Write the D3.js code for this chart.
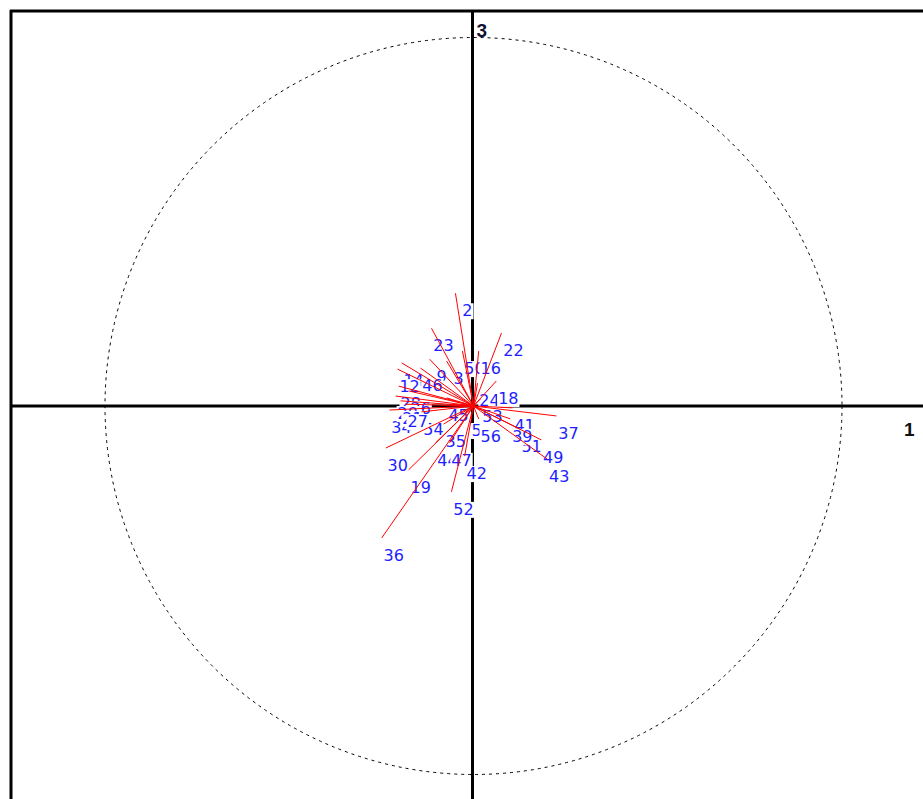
<!DOCTYPE html>
<html><head><meta charset="utf-8">
<script src="https://cdn.jsdelivr.net/npm/d3@7"></script>
<style>html,body{margin:0;padding:0;background:#fff;overflow:hidden}</style>
</head><body>
<svg id="chart" width="923" height="799"></svg>
<script>
// Variable labels and their correlations with axis 1 (horizontal) and axis 3 (vertical)
const varLabels = ["2","23","22","50","16","9","3","14","46","24","18","28","34","54","45","53","41","37","5","56","51","49","43","30","44","47","42","19","52","36","35","39","26","20","21","27","12"];
const axis1 = [-0.049,-0.114,0.076,-0.030,0.014,-0.119,-0.073,-0.195,-0.144,0.011,0.062,-0.203,-0.228,-0.141,-0.073,0.019,0.106,0.225,-0.024,0.014,0.125,0.184,0.200,-0.238,-0.103,-0.065,-0.024,-0.176,-0.060,-0.249,-0.081,0.100,-0.176,-0.211,-0.198,-0.184,-0.206];
const axis3 = [0.306,0.211,0.198,0.149,0.149,0.127,0.122,0.117,0.103,0.062,0.068,0.054,-0.011,-0.016,0.022,0.019,-0.005,-0.027,-0.019,-0.035,-0.062,-0.092,-0.144,-0.114,-0.100,-0.100,-0.136,-0.173,-0.233,-0.358,-0.049,-0.035,0.041,0.027,0.014,0.005,0.100];
const axisNames = ["1","3"];

const W = 923, H = 799;
const cx = 473.5, cy = 406, R = 368.5;
const x = d3.scaleLinear().domain([-1,1]).range([cx-R, cx+R]);
const y = d3.scaleLinear().domain([-1,1]).range([cy+R, cy-R]);
const svg = d3.select("#chart");

const data = varLabels.map((l,i)=>({label:l, a:axis1[i], b:axis3[i]}));

// frame (top and left)
svg.append("line").attr("x1",10).attr("x2",W).attr("y1",11).attr("y2",11).attr("stroke","#000").attr("stroke-width",3);
svg.append("line").attr("x1",11).attr("x2",11).attr("y1",10).attr("y2",H).attr("stroke","#000").attr("stroke-width",3);

// correlation circle
svg.append("circle").attr("cx",x(0)).attr("cy",y(0)).attr("r",x(1)-x(0))
  .attr("fill","none").attr("stroke","#000").attr("stroke-width",1).attr("stroke-dasharray","3,4");

// axes
svg.append("line").attr("x1",10).attr("x2",W).attr("y1",y(0)).attr("y2",y(0)).attr("stroke","#000").attr("stroke-width",3);
svg.append("line").attr("x1",x(0)-1).attr("x2",x(0)-1).attr("y1",10).attr("y2",H).attr("stroke","#000").attr("stroke-width",3);

// axis names
svg.append("text").attr("x",x(0)+3).attr("y",37).text(axisNames[1])
  .attr("font-family","Liberation Sans, Arial, sans-serif").attr("font-weight","bold").attr("font-size",19).attr("fill","#111133");
svg.append("text").attr("x",904).attr("y",436).text(axisNames[0])
  .attr("font-family","Liberation Sans, Arial, sans-serif").attr("font-weight","bold").attr("font-size",19).attr("fill","#111");

// labels with white boxes
const lg = svg.append("g");
data.forEach(d=>{
  const g = lg.append("g");
  const t = g.append("text").attr("x",x(d.a)+12).attr("y",y(d.b)+23).attr("text-anchor","middle")
    .attr("font-family","DejaVu Sans, sans-serif").attr("font-size",16).attr("fill","#1e1eff").text(d.label);
  const bb = t.node().getBBox();
  g.insert("rect","text").attr("x",bb.x-1).attr("y",bb.y+2).attr("width",bb.width+2).attr("height",bb.height-3).attr("fill","#fff");
});

// red segments from origin
svg.append("g").selectAll("line").data(data).join("line")
  .attr("x1",x(0)).attr("y1",y(0)).attr("x2",d=>x(d.a)).attr("y2",d=>y(d.b))
  .attr("stroke","#ff0000").attr("stroke-width",1);
</script>
</body></html>
